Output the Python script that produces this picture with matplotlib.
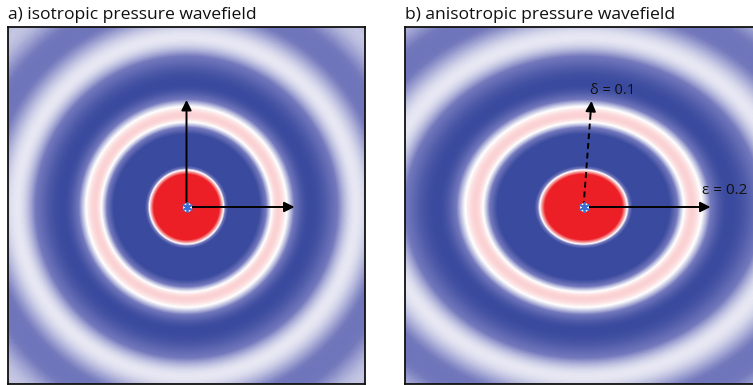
import numpy as np
import matplotlib
matplotlib.use('Agg')
import matplotlib.pyplot as plt
from matplotlib.colors import LinearSegmentedColormap

# radial profile of the wavefield (pixels from the source)
peak_r = [0, 27, 47, 62, 92, 124, 170, 206, 246, 290]
peak_v = [1.6, 1.6, -1.5, -1.5, 0.2, -1.0, -0.07, -0.45, -0.17, -0.4]

titles = ['a) isotropic pressure wavefield', 'b) anisotropic pressure wavefield']
stretch_x = [1.0, 1.18]          # horizontal stretch of the wavefront
eps_label = 'ε = 0.2'
delta_label = 'δ = 0.1'

# arrow tips (pixels from the source)
iso_tips = [(0, 107), (108, 0)]
aniso_solid_tip = (127, 0)
aniso_dashed_tip = (8, 106)

half = 178.5
src = (0.0, -1.5)

cmap = LinearSegmentedColormap.from_list(
    'pw', [(0.0, '#3a4a9e'), (0.3, '#7479bd'), (0.5, '#ffffff'), (1.0, '#ec1f26')])


def profile(r):
    out = np.full_like(r, peak_v[-1])
    for i in range(len(peak_r) - 1):
        r0, r1 = peak_r[i], peak_r[i + 1]
        v0, v1 = peak_v[i], peak_v[i + 1]
        m = (r >= r0) & (r < r1)
        t = (r[m] - r0) / (r1 - r0)
        out[m] = v0 + (v1 - v0) * (1 - np.cos(np.pi * t)) / 2
    return out


n = 357
x = np.linspace(-half, half, n)
X, Y = np.meshgrid(x, x)

fig = plt.figure(figsize=(7.53, 3.85), dpi=100)
lefts = [8, 405]
axes = []
for k in range(2):
    ax = fig.add_axes([lefts[k] / 753, 1 / 385, 357 / 753, 357 / 385])
    R = np.sqrt(((X - src[0]) / stretch_x[k]) ** 2 + (Y - src[1]) ** 2)
    field = profile(R)
    ax.imshow(field, cmap=cmap, vmin=-1, vmax=1, origin='lower',
              extent=[-half, half, -half, half], interpolation='bilinear')
    ax.set_xlim(-half, half)
    ax.set_ylim(-half, half)
    ax.set_xticks([])
    ax.set_yticks([])
    for s in ax.spines.values():
        s.set_linewidth(1.3)
        s.set_color('#111111')
    fig.text(lefts[k] / 753, 366 / 385, titles[k], fontsize=12.6,
             family='Open Sans', va='baseline', ha='left', color='#111111')
    axes.append(ax)

arrow_kw = dict(arrowstyle='-|>', color='k', lw=1.4, mutation_scale=15,
                shrinkA=0, shrinkB=0)

ax = axes[0]
for tip in iso_tips:
    ax.annotate('', xy=(src[0] + tip[0], src[1] + tip[1]), xytext=src,
                arrowprops=arrow_kw)

ax = axes[1]
ax.annotate('', xy=(src[0] + aniso_solid_tip[0], src[1] + aniso_solid_tip[1]),
            xytext=src, arrowprops=arrow_kw)
dx, dy = aniso_dashed_tip
ax.plot([src[0], src[0] + dx * 0.9], [src[1], src[1] + dy * 0.9],
        color='k', lw=1.4, ls=(0, (3, 2)))
ax.annotate('', xy=(src[0] + dx, src[1] + dy),
            xytext=(src[0] + dx * 0.88, src[1] + dy * 0.88),
            arrowprops=arrow_kw)
ax.text(src[0] + 29, src[1] + 116, delta_label, fontsize=10.5, family='Open Sans',
        ha='center', va='center', color='#111111')
ax.text(src[0] + 141, src[1] + 16, eps_label, fontsize=11, family='Open Sans',
        ha='center', va='center', color='#111111')

# source markers
for ax in axes:
    ax.scatter([src[0]], [src[1]], s=30, marker='o', color='white', zorder=4)
    ax.scatter([src[0]], [src[1]], s=45, marker=(6, 2, 0), color='#3d6fd1',
               linewidths=1.3, zorder=5)

fig.savefig('out.png', dpi=100)
